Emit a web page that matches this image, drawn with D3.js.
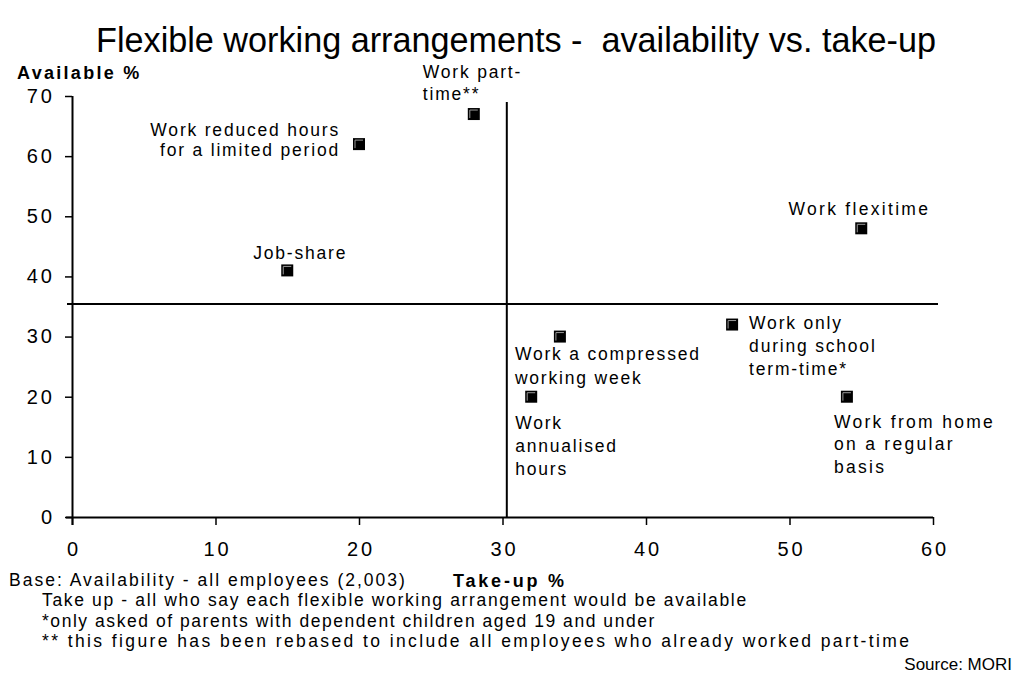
<!DOCTYPE html>
<html><head><meta charset="utf-8">
<script src="https://cdn.jsdelivr.net/npm/d3@7"></script>
<style>body{margin:0;background:#fff}svg{display:block}</style>
</head><body><svg id="c" width="1018" height="679"></svg>
<script>
const names = ["Work part-time**","Work reduced hours for a limited period","Job-share","Work flexitime","Work a compressed working week","Work annualised hours","Work only during school term-time*","Work from home on a regular basis"];
const takeUp = [28,20,15,55,34,32,46,54];
const available = [67,62,41,48,30,20,32,20];
const labelLines = [["Work part-","time**"],["Work reduced hours","for a limited period"],["Job-share"],["Work flexitime"],["Work a compressed","working week"],["Work","annualised","hours"],["Work only","during school","term-time*"],["Work from home","on a regular","basis"]];
const xTicks = [0,10,20,30,40,50,60];
const yTicks = [0,10,20,30,40,50,60,70];
const avgTakeUp = 30.3, avgAvailable = 35.4;
const footnotes = ["Base: Availability - all employees (2,003)","Take up - all who say each flexible working arrangement would be available","*only asked of parents with dependent children aged 19 and under","** this figure has been rebased to include all employees who already worked part-time"];

const svg = d3.select("#c");
const x = d3.scaleLinear().domain([0,60]).range([72,933]);
const y = d3.scaleLinear().domain([0,70]).range([517,96]);
const F = "'Liberation Sans', Arial, Helvetica, sans-serif";

svg.append("text").attr("x",516).attr("y",52).attr("text-anchor","middle")
  .attr("font-family",F).attr("font-size",34.2).attr("fill","#000")
  .text("Flexible working arrangements -\u00A0 availability vs. take-up");

const gx = svg.append("g").attr("transform","translate(0,517)")
  .call(d3.axisBottom(x).tickValues(xTicks).tickSize(8).tickPadding(17).tickFormat(d3.format("d")));
const gy = svg.append("g").attr("transform","translate(72,0)")
  .call(d3.axisLeft(y).tickValues(yTicks).tickSize(7).tickPadding(10).tickFormat(d3.format("d")));
[gx,gy].forEach(g=>{
  g.select(".domain").attr("stroke","#000").attr("stroke-width",2);
  g.selectAll(".tick line").attr("stroke","#000").attr("stroke-width",1.5);
  g.selectAll(".tick text").attr("font-family",F).attr("font-size",20).attr("fill","#000").attr("letter-spacing",3);
});
gx.select(".domain").attr("d",`M66,0.5H${x(60)}`);
gy.select(".domain").attr("d",`M0.5,${y(70)}V525`);
gx.selectAll(".tick text").attr("dy","0.71em").attr("dx",1.5);

// quadrant lines
svg.append("line").attr("x1",x(avgTakeUp)).attr("x2",x(avgTakeUp)).attr("y1",102).attr("y2",y(0))
  .attr("stroke","#000").attr("stroke-width",2);
svg.append("line").attr("x1",67).attr("x2",938).attr("y1",y(avgAvailable)).attr("y2",y(avgAvailable))
  .attr("stroke","#000").attr("stroke-width",2);

// axis titles
svg.append("text").attr("x",17).attr("y",79).attr("font-family",F).attr("font-weight","bold").attr("font-size",18).attr("letter-spacing",2.3).text("Available %");
svg.append("text").attr("x",453).attr("y",587).attr("font-family",F).attr("font-weight","bold").attr("font-size",18).attr("letter-spacing",2.8).text("Take-up %");

// markers
const s = 12;
const mk = svg.append("g").selectAll("g").data(names).join("g")
  .attr("transform",(d,i)=>`translate(${x(takeUp[i])},${y(available[i])})`);
mk.append("rect").attr("x",-s/2).attr("y",-s/2).attr("width",s).attr("height",s).attr("fill","#000");
mk.append("path").attr("d",`M${-s/2+2},${s/2-2}V${-s/2+2}H${s/2-2}`).attr("fill","none").attr("stroke","#999").attr("stroke-width",1);

// labels: offset / anchor per point
const labelPos = [
  {dx:-51,dy:-42,anchor:"start",lh:22},
  {dx:-19,dy:-14,anchor:"end",lh:20},
  {dx:13,dy:-18,anchor:"middle",lh:20},
  {dx:69,dy:-19,anchor:"end",lh:20},
  {dx:-45,dy:17,anchor:"start",lh:24},
  {dx:-16,dy:26,anchor:"start",lh:23},
  {dx:17,dy:-2,anchor:"start",lh:23},
  {dx:-13,dy:25,anchor:"start",lh:22.5}
];
const lab = svg.append("g").selectAll("text").data(names).join("text")
  .attr("font-family",F).attr("font-size",17.5).attr("fill","#000").attr("letter-spacing",(d,i)=>i===3||i===7?2.3:1.8)
  .attr("text-anchor",(d,i)=>labelPos[i].anchor)
  .attr("transform",(d,i)=>`translate(${x(takeUp[i])+labelPos[i].dx},${y(available[i])+labelPos[i].dy})`);
lab.each(function(d,i){
  const t = d3.select(this);
  labelLines[i].forEach((l,j)=>{
    t.append("tspan").attr("x",0).attr("y",j*labelPos[i].lh).attr("dy","0.35em").text(l);
  });
});

// footnotes
const fnSpacing = [2.0,1.65,1.55,2.4];
const fn = svg.append("g").attr("font-family",F).attr("font-size",17.5).attr("fill","#000");
fn.append("text").attr("x",9).attr("y",586).attr("letter-spacing",fnSpacing[0]).text(footnotes[0]);
footnotes.slice(1).forEach((f,i)=>fn.append("text").attr("x",42).attr("y",606+i*20.5).attr("letter-spacing",fnSpacing[i+1]).text(f));
fn.append("text").attr("x",1012).attr("y",670).attr("text-anchor","end").attr("font-size",17).text("Source: MORI");
</script></body></html>
